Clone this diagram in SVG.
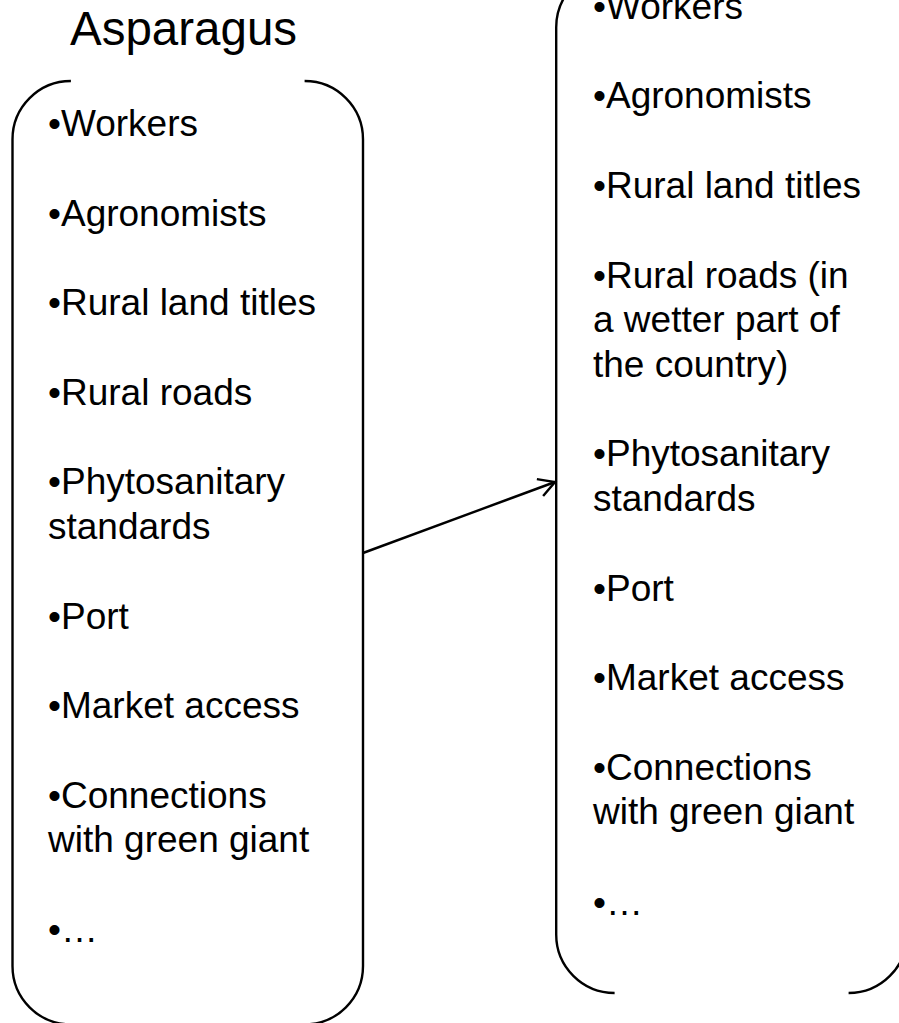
<svg xmlns="http://www.w3.org/2000/svg" width="899" height="1023" viewBox="0 0 899 1023">
  <defs>
    <style>
      .bracket { fill: none; stroke: #000; stroke-width: 2.4; }
      .item { font-family: "Liberation Sans", Arial, sans-serif; font-size: 37px; fill: #000; }
      .title { font-family: "Liberation Sans", Arial, sans-serif; font-size: 47.5px; fill: #000; }
      .link { fill: none; stroke: #000; stroke-width: 2.4; }
    </style>
    <marker id="open-arrow" markerUnits="userSpaceOnUse" markerWidth="24" markerHeight="24" viewBox="-20 -12 24 24" refX="0" refY="0" orient="auto">
      <path d="M -16,-9 L 0,0 L -16,9" fill="none" stroke="#000" stroke-width="2.4" stroke-linejoin="miter"/>
    </marker>
  </defs>
  <rect width="899" height="1023" fill="#fff"/>

  <text class="title" x="70" y="45">Asparagus</text>

  <!-- left list: bracket pair with items -->
  <g id="asparagus-list">
    <path class="bracket" d="M 70.9,81 A 58.4,58.4 0 0 0 12.5,139.4 L 12.5,966 A 58.4,58.4 0 0 0 70.9,1024.4"/>
    <path class="bracket" d="M 304.6,81 A 58.4,58.4 0 0 1 363,139.4 L 363,966 A 58.4,58.4 0 0 1 304.6,1024.4"/>
    <g transform="translate(0,2)">
      <text class="item" x="48" y="134">•Workers</text>
      <text class="item" x="48" y="223.6">•Agronomists</text>
      <text class="item" x="48" y="313.2">•Rural land titles</text>
      <text class="item" x="48" y="402.8">•Rural roads</text>
      <text class="item" x="48" y="492.4">•Phytosanitary</text>
      <text class="item" x="48" y="537">standards</text>
      <text class="item" x="48" y="626.8">•Port</text>
      <text class="item" x="48" y="716.4">•Market access</text>
      <text class="item" x="48" y="806.3">•Connections</text>
      <text class="item" x="48" y="850">with green giant</text>
      <text class="item" x="48" y="940">•…</text>
    </g>
  </g>

  <!-- right list: bracket pair with items -->
  <g id="second-list">
    <path class="bracket" d="M 614.6,-31 A 58.4,58.4 0 0 0 556.2,27.4 L 556.2,934.6 A 58.4,58.4 0 0 0 614.6,993"/>
    <path class="bracket" d="M 848.6,-31 A 58.4,58.4 0 0 1 907,27.4 L 907,934.6 A 58.4,58.4 0 0 1 848.6,993"/>
    <g transform="translate(0,2)">
      <text class="item" x="593" y="16.7">•Workers</text>
      <text class="item" x="593" y="106.3">•Agronomists</text>
      <text class="item" x="593" y="195.9">•Rural land titles</text>
      <text class="item" x="593" y="285.6">•Rural roads (in</text>
      <text class="item" x="593" y="330.2">a wetter part of</text>
      <text class="item" x="593" y="374.8">the country)</text>
      <text class="item" x="593" y="464.4">•Phytosanitary</text>
      <text class="item" x="593" y="509">standards</text>
      <text class="item" x="593" y="598.6">•Port</text>
      <text class="item" x="593" y="688.2">•Market access</text>
      <text class="item" x="593" y="777.8">•Connections</text>
      <text class="item" x="593" y="822.4">with green giant</text>
      <text class="item" x="593" y="912.5">•…</text>
    </g>
  </g>

  <g id="connectors">
    <line class="link" x1="363" y1="553" x2="555" y2="482" marker-end="url(#open-arrow)"/>
  </g>
</svg>
